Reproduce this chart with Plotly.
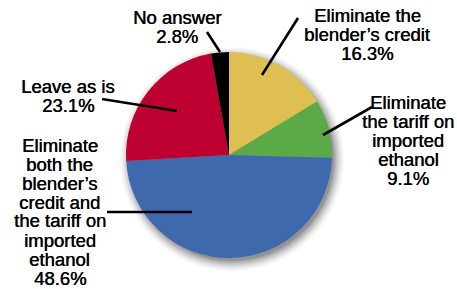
import plotly.graph_objects as go

labels = ["Eliminate the blender's credit", "Eliminate the tariff on imported ethanol",
          "Eliminate both the blender's credit and the tariff on imported ethanol",
          "Leave as is", "No answer"]
values = [16.3, 9.1, 48.6, 23.1, 2.8]
colors = ["#E0BF52", "#5BAA47", "#3F69AD", "#BE0030", "#000000"]
label_lines = [["Eliminate the", "blender’s credit", "16.3%"],
               ["Eliminate", "the tariff on", "imported", "ethanol", "9.1%"],
               ["Eliminate", "both the", "blender’s", "credit and", "the tariff on", "imported", "ethanol", "48.6%"],
               ["Leave as is", "23.1%"],
               ["No answer", "2.8%"]]

W, H = 457, 289
def px(x): return x / W
def py(y): return 1 - y / H

fig = go.Figure(go.Pie(
    labels=labels, values=values, sort=False, direction="clockwise", rotation=0,
    marker=dict(colors=colors, line=dict(width=0)), textinfo="none", hoverinfo="label+percent",
    domain=dict(x=[px(125), px(333)], y=[py(258), py(52)]), showlegend=False,
))

text_pos = [(367, 15), (408, 102), (60, 145), (68, 86), (177, 18)]
line_h = 19
lines = [((298, 18), (262, 75)), ((372, 107), (323, 135)), ((107, 212), (192, 212)),
         ((102, 99), (177, 111)), ((207, 32), (220, 52))]

shapes = []
cx, cy, r = 232, 159, 103
for dr, op in [(9, 0.03), (7, 0.05), (5, 0.07), (3, 0.09), (1, 0.12), (-1, 0.15)]:
    shapes.append(dict(type="circle", xref="paper", yref="paper", layer="below",
                       x0=px(cx - r - dr), x1=px(cx + r + dr), y0=py(cy + r + dr), y1=py(cy - r - dr),
                       fillcolor=f"rgba(0,0,0,{op})", line=dict(width=0)))
for (x0, y0), (x1, y1) in lines:
    shapes.append(dict(type="line", xref="paper", yref="paper", x0=px(x0), y0=py(y0), x1=px(x1), y1=py(y1),
                       line=dict(color="black", width=2.6)))

annotations = []
for tl, (x, y) in zip(label_lines, text_pos):
    for i, t in enumerate(tl):
        annotations.append(dict(text=t, x=px(x), y=py(y + i * line_h), xref="paper", yref="paper",
                                showarrow=False, xanchor="center", yanchor="middle",
                                font=dict(family="Liberation Sans, Arial", size=18.5, color="black",
                                          shadow="0.4px 0 0 black")))

fig.update_layout(width=W, height=H, margin=dict(l=0, r=0, t=0, b=0),
                  paper_bgcolor="white", plot_bgcolor="white",
                  shapes=shapes, annotations=annotations)
fig.write_html("out.html", config={"displayModeBar": False},
               post_script="document.body.style.margin='0px';document.body.style.padding='0px';")
